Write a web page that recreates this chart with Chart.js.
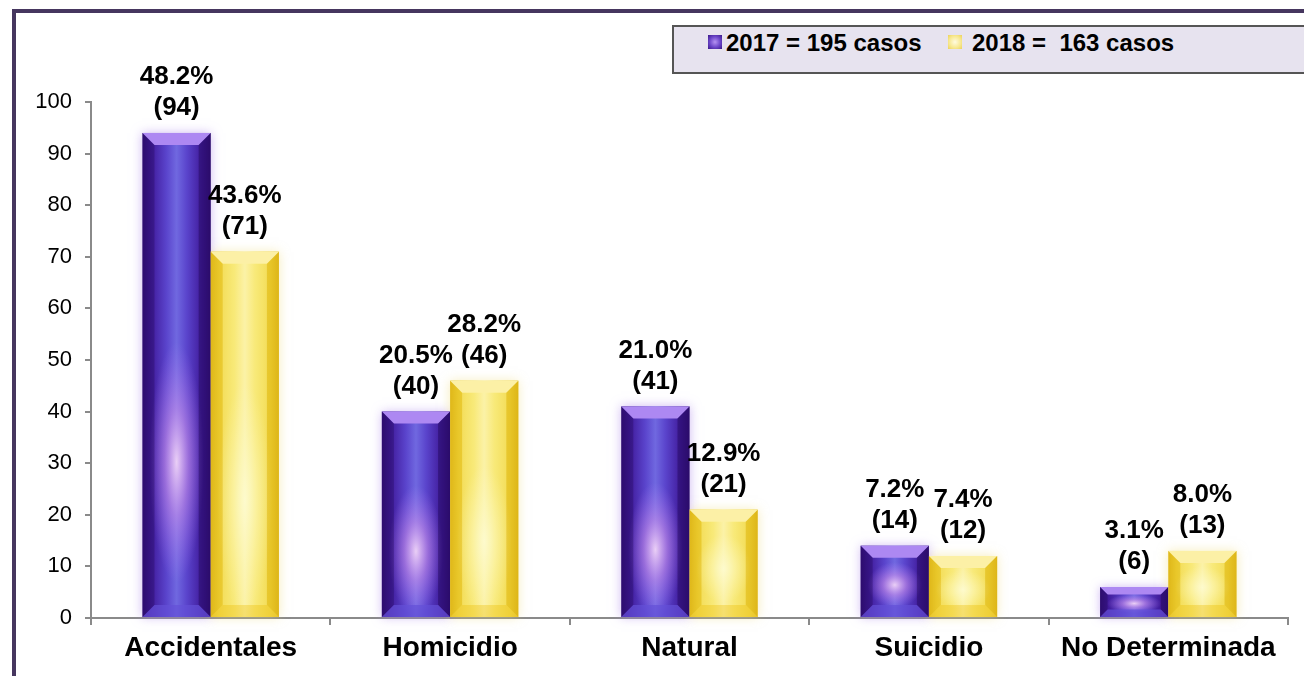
<!DOCTYPE html>
<html>
<head>
<meta charset="utf-8">
<script src="https://cdn.jsdelivr.net/npm/chart.js@4.4.1/dist/chart.umd.min.js"></script>
<style>
  html, body { margin: 0; padding: 0; background: #fff; }
  body { width: 1304px; height: 676px; position: relative; overflow: hidden; font-family: "Liberation Sans", Arial, sans-serif; }
  #frame { position: absolute; left: 12px; top: 9px; right: -10px; bottom: -10px; border-left: 4px solid #46365f; border-top: 4px solid #46365f; }
  #wrap { position: absolute; left: 0; top: 0; width: 1304px; height: 676px; }
  #legend { position: absolute; left: 672px; top: 25px; width: 660px; height: 45px; background: #e7e3ef; border: 2px solid #555; }
  .item { position: absolute; top: 0; height: 32px; line-height: 32px; font-weight: bold; font-size: 24px; color: #000; white-space: pre; }
  .mark { position: absolute; width: 14px; height: 14px; top: 8px; }
</style>
</head>
<body>
<div id="frame"></div>
<div id="wrap"><canvas id="barChart"></canvas></div>
<div id="legend"></div>
<script>
const categories = ['Accidentales', 'Homicidio', 'Natural', 'Suicidio', 'No Determinada'];
const values2017 = [94, 40, 41, 14, 6];
const values2018 = [71, 46, 21, 12, 13];
const pct2017 = ['48.2%', '20.5%', '21.0%', '7.2%', '3.1%'];
const pct2018 = ['43.6%', '28.2%', '12.9%', '7.4%', '8.0%'];
const seriesLabels = ['2017 = 195 casos', '2018 =  163 casos'];
const yMin = 0, yMax = 100, yStep = 10;

Chart.defaults.font.family = '"Liberation Sans", Arial, sans-serif';

// legend box (html)
const legend = document.getElementById('legend');
const markStyles = [
	'background: radial-gradient(circle, #b592f2 0%, #6b45c8 55%, #3a1888 100%);',
	'background: radial-gradient(circle, #fffbe0 0%, #f7e890 60%, #ecd25a 100%);'
];
const itemLeft = [34, 274];
seriesLabels.forEach((txt, i) => {
	const m = document.createElement('div');
	m.className = 'mark';
	m.style.cssText = markStyles[i] + 'left:' + itemLeft[i] + 'px;';
	legend.appendChild(m);
	const t = document.createElement('div');
	t.className = 'item';
	t.style.left = (itemLeft[i] + 18 + (i ? 6 : 0)) + 'px';
	t.textContent = txt;
	legend.appendChild(t);
});

function trap(ctx, pts, fill) {
	ctx.beginPath();
	ctx.moveTo(pts[0][0], pts[0][1]);
	for (let i = 1; i < pts.length; i++) ctx.lineTo(pts[i][0], pts[i][1]);
	ctx.closePath();
	ctx.fillStyle = fill;
	ctx.fill();
}

function shadeBar(ctx, x0, x1, top, bot, purple) {
	const w = x1 - x0, h = bot - top;
	const g = ctx.createLinearGradient(x0, 0, x1, 0);
	if (purple) {
		g.addColorStop(0, '#34107c');
		g.addColorStop(0.12, '#401a9a');
		g.addColorStop(0.35, '#5a44cc');
		g.addColorStop(0.5, '#7068e0');
		g.addColorStop(0.65, '#5a44cc');
		g.addColorStop(0.88, '#401a9a');
		g.addColorStop(1, '#34107c');
	} else {
		g.addColorStop(0, '#e4c020');
		g.addColorStop(0.12, '#f0d435');
		g.addColorStop(0.35, '#f7e562');
		g.addColorStop(0.5, '#fbef9a');
		g.addColorStop(0.65, '#f7e562');
		g.addColorStop(0.88, '#f0d435');
		g.addColorStop(1, '#e4c020');
	}
	ctx.fillStyle = g;
	ctx.fillRect(x0, top, w, h);

	// soft glow inside
	const cx = (x0 + x1) / 2;
	const gy = top + h * (h > 150 ? 0.68 : 0.55);
	const rx = w * 0.4, ry = Math.max(8, Math.min(h * 0.32, 120));
	ctx.save();
	ctx.beginPath();
	ctx.rect(x0, top, w, h);
	ctx.clip();
	ctx.translate(cx, gy);
	ctx.scale(1, ry / rx);
	const rg = ctx.createRadialGradient(0, 0, 0, 0, 0, rx);
	if (purple) {
		rg.addColorStop(0, 'rgba(255,225,250,0.85)');
		rg.addColorStop(0.45, 'rgba(230,160,240,0.45)');
		rg.addColorStop(1, 'rgba(200,140,255,0)');
	} else {
		rg.addColorStop(0, 'rgba(255,255,225,0.65)');
		rg.addColorStop(1, 'rgba(255,255,210,0)');
	}
	ctx.fillStyle = rg;
	ctx.fillRect(-rx, -rx, rx * 2, rx * 2);
	ctx.restore();

	// bevels
	const b = Math.min(12, h * 0.25);
	if (purple) {
		trap(ctx, [[x0, top], [x1, top], [x1 - b, top + b], [x0 + b, top + b]], '#ad88f2');
		trap(ctx, [[x0, top], [x0 + b, top + b], [x0 + b, bot - b], [x0, bot]], 'rgba(30,5,80,0.3)');
		trap(ctx, [[x1, top], [x1 - b, top + b], [x1 - b, bot - b], [x1, bot]], 'rgba(30,5,80,0.4)');
		trap(ctx, [[x0, bot], [x0 + b, bot - b], [x1 - b, bot - b], [x1, bot]], 'rgba(100,80,215,0.7)');
	} else {
		trap(ctx, [[x0, top], [x1, top], [x1 - b, top + b], [x0 + b, top + b]], '#fcf0a6');
		trap(ctx, [[x0, top], [x0 + b, top + b], [x0 + b, bot - b], [x0, bot]], 'rgba(205,150,0,0.2)');
		trap(ctx, [[x1, top], [x1 - b, top + b], [x1 - b, bot - b], [x1, bot]], 'rgba(205,150,0,0.25)');
		trap(ctx, [[x0, bot], [x0 + b, bot - b], [x1 - b, bot - b], [x1, bot]], 'rgba(240,205,60,0.45)');
		ctx.fillStyle = 'rgba(255,255,230,0.18)';
		ctx.fillRect(x0 + b, top + b, w - 2 * b, h - 2 * b);
	}
}

const barLook = {
	id: 'barLook',
	afterDatasetsDraw(chart) {
		const ctx = chart.ctx;
		const bars = [];
		chart.data.datasets.forEach((ds, i) => {
			chart.getDatasetMeta(i).data.forEach((el, j) => {
				const p = el.getProps(['x', 'y', 'base', 'width'], true);
				bars.push({ i, j, x0: p.x - p.width / 2, x1: p.x + p.width / 2, top: Math.min(p.y, p.base), bot: Math.max(p.y, p.base), x: p.x });
			});
		});
		// halo
		bars.forEach(b => {
			ctx.save();
			ctx.shadowColor = b.i === 0 ? 'rgba(170,130,235,0.55)' : 'rgba(240,220,120,0.5)';
			ctx.shadowBlur = 10;
			ctx.fillStyle = '#fff';
			ctx.fillRect(b.x0, b.top, b.x1 - b.x0, b.bot - b.top);
			ctx.restore();
		});
		bars.forEach(b => shadeBar(ctx, b.x0, b.x1, b.top, b.bot, b.i === 0));
		// value labels
		ctx.save();
		ctx.fillStyle = '#000';
		ctx.font = 'bold 26px "Liberation Sans", Arial, sans-serif';
		ctx.textAlign = 'center';
		ctx.textBaseline = 'middle';
		bars.forEach(b => {
			const pct = b.i === 0 ? pct2017[b.j] : pct2018[b.j];
			const val = chart.data.datasets[b.i].data[b.j];
			ctx.fillText(pct, b.x, b.top - 56);
			ctx.fillText('(' + val + ')', b.x, b.top - 25);
		});
		ctx.restore();
	}
};

const ctx = document.getElementById('barChart').getContext('2d');
new Chart(ctx, {
	type: 'bar',
	data: {
		labels: categories,
		datasets: [
			{ label: seriesLabels[0], data: values2017, backgroundColor: '#4b2aa8' },
			{ label: seriesLabels[1], data: values2018, backgroundColor: '#f0d54a' }
		]
	},
	options: {
		responsive: true,
		maintainAspectRatio: false,
		animation: false,
		barPercentage: 1,
		categoryPercentage: 0.57,
		layout: { padding: { left: 0, top: 102, right: 16, bottom: 0 } },
		plugins: {
			legend: { display: false },
			tooltip: { enabled: false }
		},
		scales: {
			x: {
				afterFit: scale => { scale.height = 58; },
				grid: { offset: true, drawOnChartArea: false, drawTicks: true, tickLength: 7, color: '#8a8a8a', lineWidth: 2 },
				border: { color: '#8a8a8a', width: 2 },
				ticks: { color: '#000', font: { size: 28, weight: 'bold' }, padding: 6 }
			},
			y: {
				min: yMin,
				max: yMax,
				afterFit: scale => { scale.width = 91; },
				grid: { drawOnChartArea: false, drawTicks: true, tickLength: 6, color: '#8a8a8a', lineWidth: 2 },
				border: { color: '#8a8a8a', width: 2 },
				ticks: { stepSize: yStep, color: '#000', font: { size: 22 }, padding: 13 }
			}
		}
	},
	plugins: [barLook]
});
</script>
</body>
</html>
